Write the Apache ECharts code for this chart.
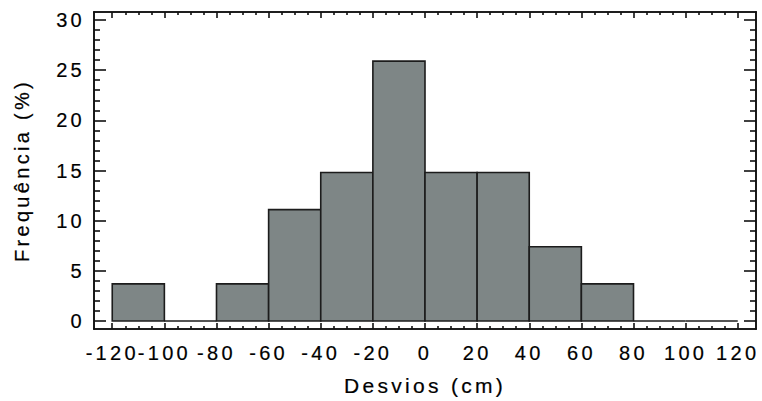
<!DOCTYPE html>
<html>
<head>
<meta charset="utf-8">
<script src="https://cdn.jsdelivr.net/npm/echarts@6/dist/echarts.min.js"></script>
<style>
  html, body { margin: 0; padding: 0; background: #fff; }
  #chart { width: 762px; height: 401px; }
  /* wide tracking on all chart text */
  #chart svg text { letter-spacing: 3.3px; }
</style>
</head>
<body>
<div id="chart"></div>
<script>
// Histogram bins (cm) and relative frequency (%) per bin
const binStarts = [-120, -100, -80, -60, -40, -20, 0, 20, 40, 60, 80, 100];
const binWidth = 20;
const frequencies = [3.7, 0, 3.7, 11.1, 14.8, 25.9, 14.8, 14.8, 7.4, 3.7, 0, 0];

// Axis tick values
const xMajorTicks = [-120, -100, -80, -60, -40, -20, 0, 20, 40, 60, 80, 100, 120];
const xMinorTicks = [];
for (let v = -115; v <= 115; v += 5) if (v % 20 !== 0) xMinorTicks.push(v);
const yMajorTicks = [0, 5, 10, 15, 20, 25, 30];
const yMinorTicks = [];
for (let v = 0; v <= 30; v += 1) if (v % 5 !== 0) yMinorTicks.push(v);

const FONT = 'Liberation Sans, Arial, sans-serif';
const INK = '#111';
const textWeight = { textBorderColor: '#000', textBorderWidth: 0.2 };

function xAxisDef(position, ticks, len, withLabels) {
  return {
    type: 'value', position, min: -127, max: 127,
    axisLine: { show: true, onZero: false, lineStyle: { color: INK, width: 1.6 } },
    axisTick: { show: true, inside: true, length: len, customValues: ticks,
                lineStyle: { color: INK, width: 1.6 } },
    axisLabel: withLabels
      ? Object.assign({ show: true, customValues: ticks, margin: 14, color: '#000',
          fontFamily: FONT, fontSize: 20 }, textWeight)
      : { show: false },
    splitLine: { show: false },
    name: withLabels ? 'Desvios (cm)' : '',
    nameLocation: 'middle', nameGap: 46,
    nameTextStyle: Object.assign({ color: '#000', fontFamily: FONT, fontSize: 21 }, textWeight)
  };
}

function yAxisDef(position, ticks, len, withLabels) {
  return {
    type: 'value', position, min: -0.8, max: 30.8,
    axisLine: { show: true, onZero: false, lineStyle: { color: INK, width: 1.6 } },
    axisTick: { show: true, inside: true, length: len, customValues: ticks,
                lineStyle: { color: INK, width: 1.6 } },
    axisLabel: withLabels
      ? Object.assign({ show: true, customValues: ticks, margin: 9, color: '#000',
          fontFamily: FONT, fontSize: 20 }, textWeight)
      : { show: false },
    splitLine: { show: false },
    name: withLabels ? 'Frequência (%)' : '',
    nameLocation: 'middle', nameGap: 62,
    nameTextStyle: Object.assign({ color: '#000', fontFamily: FONT, fontSize: 20 }, textWeight)
  };
}

const barData = binStarts.map((s, i) => [s, s + binWidth, frequencies[i]]);

const chart = echarts.init(document.getElementById('chart'), null, { renderer: 'svg' });
chart.setOption({
  animation: false,
  backgroundColor: '#fff',
  grid: { left: 94, right: 6, top: 12, bottom: 72, containLabel: false, outerBoundsMode: 'none' },
  xAxis: [
    xAxisDef('bottom', xMajorTicks, 6, true),
    xAxisDef('bottom', xMinorTicks, 3, false),
    xAxisDef('top', xMajorTicks, 6, false),
    xAxisDef('top', xMinorTicks, 3, false)
  ],
  yAxis: [
    yAxisDef('left', yMajorTicks, 12, true),
    yAxisDef('left', yMinorTicks, 6, false),
    yAxisDef('right', yMajorTicks, 12, false),
    yAxisDef('right', yMinorTicks, 6, false)
  ],
  series: [{
    type: 'custom',
    xAxisIndex: 0,
    yAxisIndex: 0,
    data: barData,
    encode: { x: [0, 1], y: 2 },
    renderItem: function (params, api) {
      const p0 = api.coord([api.value(0), 0]);
      const p1 = api.coord([api.value(1), api.value(2)]);
      return {
        type: 'polygon',
        shape: { points: [[p0[0], p0[1]], [p1[0], p0[1]], [p1[0], p1[1]], [p0[0], p1[1]]] },
        style: { fill: '#7e8686', stroke: '#1c1c1c', lineWidth: 1.6 }
      };
    }
  }]
});
</script>
</body>
</html>
